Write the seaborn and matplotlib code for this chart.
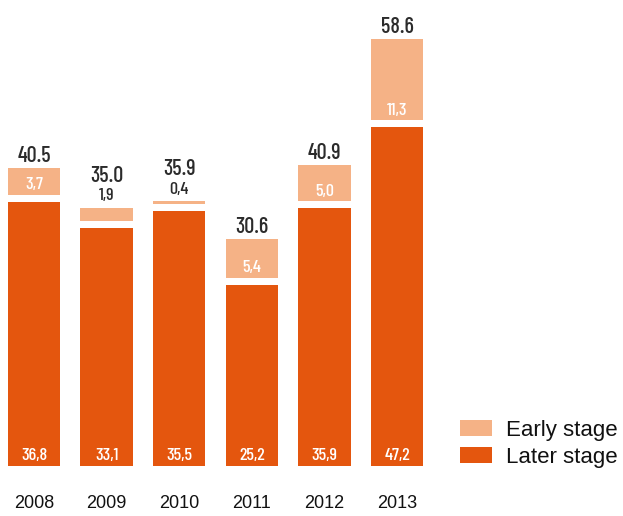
import matplotlib
matplotlib.use("Agg")
import matplotlib.pyplot as plt
from matplotlib import font_manager
from matplotlib.font_manager import FontProperties
from matplotlib.textpath import TextPath
from matplotlib.patches import Patch
import seaborn as sns
import pandas as pd

# Data
years = ["2008", "2009", "2010", "2011", "2012", "2013"]
later_stage = [36.8, 33.1, 35.5, 25.2, 35.9, 47.2]
early_stage = [3.7, 1.9, 0.4, 5.4, 5.0, 11.3]
totals = [40.5, 35.0, 35.9, 30.6, 40.9, 58.6]
later_labels = ["36,8", "33,1", "35,5", "25,2", "35,9", "47,2"]
early_labels = ["3,7", "1,9", "0,4", "5,4", "5,0", "11,3"]
total_labels = ["40.5", "35.0", "35.9", "30.6", "40.9", "58.6"]

LATER = "#E4560E"
EARLY = "#F5B286"
DARK = "#2B2B2B"
GAP = 1.0  # white band between the two segments

sns.set_theme(style="white")
plt.rcParams["font.family"] = ["Liberation Sans", "DejaVu Sans"]

SKIP = ("serif", "mono", "math", "cjk", "stix", "cmr", "cmex", "cmmi", "cmsy",
        "cmtt", "cmb", "cmss", "display", "italic", "oblique", "symbol")


def narrow_face(min_w, max_w, target_ratio):
    """Return the installed sans face whose '40.5' is closest to the wanted width/height ratio."""
    best = None
    seen = set()
    for f in font_manager.fontManager.ttflist:
        key = (f.name + " " + f.fname).lower()
        if any(k in key for k in SKIP) or f.fname in seen:
            continue
        seen.add(f.fname)
        w = f.weight if isinstance(f.weight, int) else (700 if "bold" in str(f.weight) else 400)
        if not (min_w <= w <= max_w):
            continue
        try:
            ext = TextPath((0, 0), "40.5", size=10, prop=FontProperties(fname=f.fname)).get_extents()
        except Exception:
            continue
        if ext.height <= 0:
            continue
        score = abs(ext.width / ext.height - target_ratio)
        if best is None or score < best[0]:
            best = (score, f.fname, ext.height / 10)
    if best is None:
        return FontProperties(family="Liberation Sans", weight="bold"), 0.72
    return FontProperties(fname=best[1]), best[2]


# one condensed face for every value label
fp_num, cap_num = narrow_face(500, 600, 2.0)


def size_for(cap_px, cap_ratio):
    # point size giving the wanted digit height in pixels at 100 dpi
    return cap_px * 72 / 100 / cap_ratio


df = pd.DataFrame({"year": years, "later": later_stage, "early": early_stage})
df["early_top"] = df["later"] + GAP + df["early"]
df["gap_top"] = df["later"] + GAP

fig = plt.figure(figsize=(6.23, 5.16), dpi=100)
ax = fig.add_axes([0, 50 / 516, 1, 466 / 516])

W = 0.72
sns.barplot(data=df, x="year", y="early_top", color=EARLY, width=W,
            saturation=1, ax=ax, linewidth=0)
sns.barplot(data=df, x="year", y="gap_top", color="white", width=W,
            saturation=1, ax=ax, linewidth=0)
sns.barplot(data=df, x="year", y="later", color=LATER, width=W,
            saturation=1, ax=ax, linewidth=0)

px = 7.18  # pixels per unit
ax.set_ylim(0, 466 / px)
ax.set_xlim(-34 / 72.6, (623 - 34) / 72.6)

s_total = size_for(16, cap_num)
s_small = size_for(13, cap_num)


def label(x, y, s, color, size):
    p = fp_num.copy()
    p.set_size(size)
    ax.text(x, y, s, ha="center", va="baseline", color=color, fontproperties=p)


for i in range(len(years)):
    # later-stage value near bar base
    label(i, 0.84, later_labels[i], "white", s_small)
    bottom_early = later_stage[i] + GAP
    top = bottom_early + early_stage[i]
    if early_stage[i] >= 3:
        label(i, bottom_early + 0.75, early_labels[i], "white", s_small)
        label(i, top + 0.84, total_labels[i], DARK, s_total)
    else:
        label(i, top + 1.0, early_labels[i], DARK, s_small)
        label(i, top + 3.6, total_labels[i], DARK, s_total)

ax.set_xlabel("")
ax.set_ylabel("")
ax.set_yticks([])
ax.tick_params(axis="x", length=0, pad=21, labelsize=13, labelcolor="#111111")
for s in ax.spines.values():
    s.set_visible(False)

handles = [Patch(facecolor=EARLY, edgecolor="none", label="Early stage"),
           Patch(facecolor=LATER, edgecolor="none", label="Later stage")]
fig.legend(handles=handles, loc="upper left", bbox_to_anchor=(460 / 623, 1 - 420 / 516),
           frameon=False, fontsize=16, handlelength=1.45, handleheight=0.75,
           handletextpad=0.6, labelspacing=0.27, borderpad=0, borderaxespad=0,
           labelcolor="#111111")

fig.savefig("out.png", dpi=100)
